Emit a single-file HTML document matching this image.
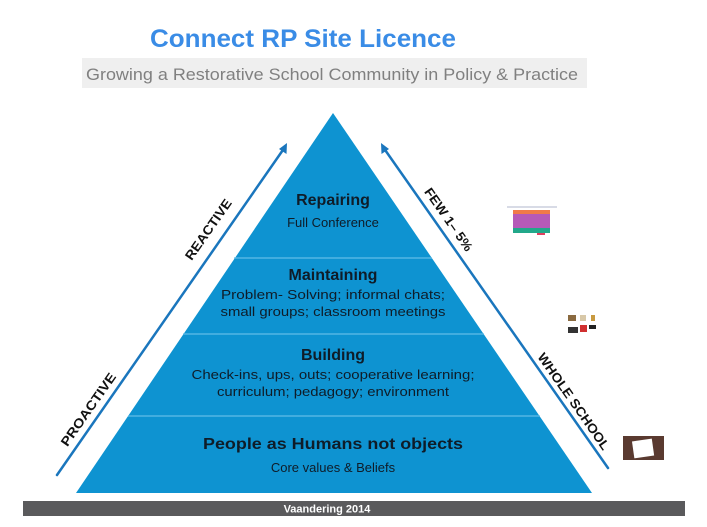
<!DOCTYPE html>
<html>
<head>
<meta charset="utf-8">
<style>
html,body{margin:0;padding:0;background:#fff;}
svg{display:block;}
</style>
</head>
<body>
<svg width="707" height="527" viewBox="0 0 707 527" xmlns="http://www.w3.org/2000/svg" font-family="'Liberation Sans', Arial, sans-serif">
  <rect width="707" height="527" fill="#ffffff"/>
  <!-- Title -->
  <text x="303" y="47" text-anchor="middle" font-size="25" font-weight="bold" fill="#3a8ce6" textLength="306" lengthAdjust="spacingAndGlyphs">Connect RP Site Licence</text>
  <rect x="82" y="58" width="505" height="30" fill="#efefef"/>
  <text x="332" y="80" text-anchor="middle" font-size="17" fill="#808080" textLength="492" lengthAdjust="spacingAndGlyphs">Growing a Restorative School Community in Policy &amp; Practice</text>

  <!-- Pyramid -->
  <polygon points="333,113 76,493 592,493" fill="#0e93d1"/>
  <line x1="234" y1="258" x2="432" y2="258" stroke="#62bde8" stroke-width="1.2"/>
  <line x1="183" y1="334" x2="484" y2="334" stroke="#62bde8" stroke-width="1.2"/>
  <line x1="128" y1="416" x2="540" y2="416" stroke="#62bde8" stroke-width="1.2"/>

  <!-- Pyramid text -->
  <g fill="#0f1c28" text-anchor="middle">
    <text x="333" y="205" font-size="16" font-weight="bold">Repairing</text>
    <text x="333" y="227" font-size="13">Full Conference</text>
    <text x="333" y="280" font-size="16" font-weight="bold">Maintaining</text>
    <text x="333" y="299" font-size="13" textLength="224" lengthAdjust="spacingAndGlyphs">Problem- Solving; informal chats;</text>
    <text x="333" y="316" font-size="13" textLength="225" lengthAdjust="spacingAndGlyphs">small groups; classroom meetings</text>
    <text x="333" y="360" font-size="16" font-weight="bold">Building</text>
    <text x="333" y="379" font-size="13" textLength="283" lengthAdjust="spacingAndGlyphs">Check-ins, ups, outs; cooperative learning;</text>
    <text x="333" y="396" font-size="13" textLength="232" lengthAdjust="spacingAndGlyphs">curriculum; pedagogy; environment</text>
    <text x="333" y="449" font-size="16" font-weight="bold" textLength="260" lengthAdjust="spacingAndGlyphs">People as Humans not objects</text>
    <text x="333" y="472" font-size="13">Core values &amp; Beliefs</text>
  </g>

  <!-- Arrows -->
  <g stroke="#1a76bd" stroke-width="2.5" fill="none" stroke-linecap="round">
    <line x1="57" y1="475" x2="285" y2="147"/>
    <line x1="608" y1="468" x2="383" y2="147"/>
  </g>
  <polygon points="287,143 286.5,154 279,149" fill="#1a76bd"/>
  <polygon points="381,143 389,149 381.5,154" fill="#1a76bd"/>

  <!-- Arrow labels -->
  <g font-size="13" font-weight="bold" fill="#111" text-anchor="middle">
    <text transform="translate(212,232) rotate(-55)" textLength="71" lengthAdjust="spacingAndGlyphs">REACTIVE</text>
    <text transform="translate(92,412) rotate(-55)" textLength="86" lengthAdjust="spacingAndGlyphs">PROACTIVE</text>
    <text transform="translate(445,222) rotate(55)" textLength="74" lengthAdjust="spacingAndGlyphs">FEW 1– 5%</text>
    <text transform="translate(570,404) rotate(55)" textLength="115" lengthAdjust="spacingAndGlyphs">WHOLE SCHOOL</text>
  </g>

  <!-- Small thumbnails -->
  <rect x="507" y="206" width="50" height="2" fill="#d8dbe6"/>
  <rect x="513" y="210" width="37" height="4" fill="#f07a4a"/>
  <rect x="513" y="214" width="37" height="14" fill="#b65ab8"/>
  <rect x="513" y="228" width="37" height="5" fill="#22a88a"/>
  <rect x="537" y="233" width="8" height="2" fill="#e04060"/>

  <rect x="568" y="315" width="8" height="6" fill="#8a6a40"/>
  <rect x="580" y="315" width="6" height="6" fill="#d8c8a8"/>
  <rect x="591" y="315" width="4" height="6" fill="#c89a40"/>
  <rect x="568" y="327" width="10" height="6" fill="#333"/>
  <rect x="580" y="325" width="7" height="7" fill="#d03030"/>
  <rect x="589" y="325" width="7" height="4" fill="#222"/>

  <rect x="623" y="436" width="41" height="24" fill="#5a3a30"/>
  <rect x="633" y="440" width="20" height="17" fill="#ffffff" transform="rotate(-8 643 448)"/>

  <!-- Bottom bar -->
  <rect x="23" y="501" width="662" height="15" fill="#5a5a5c"/>
  <text x="327" y="512.5" text-anchor="middle" font-size="11" font-weight="bold" fill="#ffffff">Vaandering 2014</text>
</svg>
</body>
</html>
